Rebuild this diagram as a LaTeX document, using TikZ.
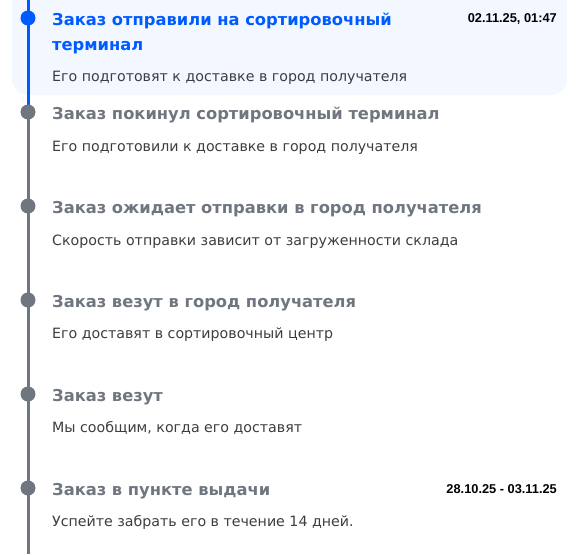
\documentclass[tikz,border=0pt]{standalone}
\usepackage{fontspec}
\setmainfont{DejaVu Sans}
\newfontfamily\datefont{Liberation Sans}
\usepackage{tikz}

\definecolor{ozblue}{HTML}{005BFF}
\definecolor{panel}{HTML}{F3F7FF}
\definecolor{stepgray}{HTML}{6F7680}
\definecolor{subtext}{HTML}{3B3D40}

\tikzset{
  title/.style={anchor=base west, inner sep=0pt, font=\fontsize{16.3}{19}\selectfont\bfseries, text=stepgray},
  subtitle/.style={anchor=base west, inner sep=0pt, font=\fontsize{14.2}{17}\selectfont, text=subtext},
  date/.style={anchor=base east, inner sep=0pt, font=\datefont\fontsize{12.8}{15}\selectfont\bfseries, text=black},
  dot/.style={circle, fill=stepgray, minimum size=15pt, inner sep=0pt}
}

\begin{document}
\begin{tikzpicture}[x=1pt, y=-1pt]
  \useasboundingbox (0,0) rectangle (586,554);

  % current step panel
  \begin{scope}
  \clip (0,0) rectangle (586,554);
  \fill[panel, rounded corners=16pt] (12,-30) rectangle (567,95);
  \end{scope}

  % timeline
  \draw[line width=3pt, stepgray] (28,112) -- (28,554);
  \draw[line width=3pt, ozblue] (28,0) -- (28,105);

  \node[dot, fill=ozblue] (d1) at (28,18) {};
  \node[dot] (d2) at (28,112) {};
  \node[dot] (d3) at (28,206) {};
  \node[dot] (d4) at (28,300) {};
  \node[dot] (d5) at (28,394) {};
  \node[dot] (d6) at (28,488) {};

  \node[title, text=ozblue] (t1) at (52,25) {Заказ отправили на сортировочный};
  \node[title, text=ozblue] (t1b) at (52,50) {терминал};
  \node[subtitle] (s1) at (52,81) {Его подготовят к доставке в город получателя};
  \node[date] (dt1) at (557,23) {02.11.25, 01:47};

  \node[title] (t2) at (52,119) {Заказ покинул сортировочный терминал};
  \node[subtitle] (s2) at (52,151) {Его подготовили к доставке в город получателя};

  \node[title] (t3) at (52,213) {Заказ ожидает отправки в город получателя};
  \node[subtitle] (s3) at (52,245) {Скорость отправки зависит от загруженности склада};

  \node[title] (t4) at (52,307) {Заказ везут в город получателя};
  \node[subtitle] (s4) at (52,338) {Его доставят в сортировочный центр};

  \node[title] (t5) at (52,401) {Заказ везут};
  \node[subtitle] (s5) at (52,432) {Мы сообщим, когда его доставят};

  \node[title] (t6) at (52,495) {Заказ в пункте выдачи};
  \node[subtitle] (s6) at (52,526) {Успейте забрать его в течение 14 дней.};
  \node[date] (dt6) at (557,493) {28.10.25 - 03.11.25};

\end{tikzpicture}
\end{document}
